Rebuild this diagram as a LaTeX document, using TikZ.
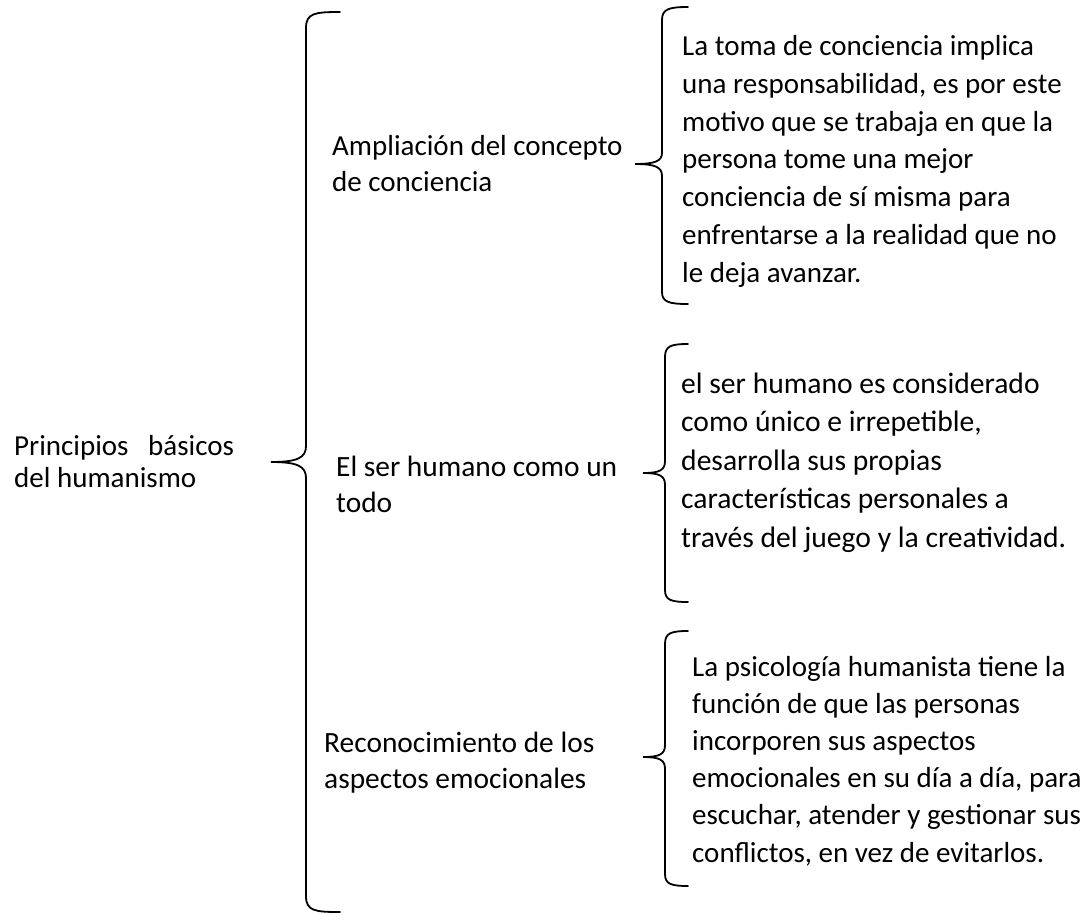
\documentclass[tikz,border=0pt]{standalone}
\usepackage{fontspec}
\setmainfont{Carlito}
\begin{document}
\begin{tikzpicture}[x=1pt,y=-1pt,
    brace/.style={line width=1.8pt,line cap=round},
    txt/.style={anchor=base west,inner sep=0pt,align=left,
      font=\fontsize{29}{37.7}\selectfont}]
  \useasboundingbox (0,0) rectangle (1091,919);
  % left title (anchor is the baseline of the last line)
  \node[txt,font=\fontsize{29}{32}\selectfont] (root) at (14,487)
    {Principios\ \ \ básicos\\del humanismo};
  % middle column
  \node[txt,font=\fontsize{29}{36}\selectfont] (a) at (332,191)
    {Ampliación del concepto\\de conciencia};
  \node[txt,font=\fontsize{29.4}{36}\selectfont] (b) at (336,512)
    {El ser humano como un\\todo};
  \node[txt,font=\fontsize{29.4}{36}\selectfont] (c) at (324,788)
    {Reconocimiento de los\\aspectos emocionales};
  % right column
  \node[txt] (ta) at (682,282) {La toma de conciencia implica\\una responsabilidad, es por este\\motivo que se trabaja en que la\\persona tome una mejor\\conciencia de sí misma para\\enfrentarse a la realidad que no\\le deja avanzar.};
  \node[txt,font=\fontsize{29.6}{38.5}\selectfont] (tb) at (681,547) {el ser humano es considerado\\como único e irrepetible,\\desarrolla sus propias\\características personales a\\través del juego y la creatividad.};
  \node[txt,font=\fontsize{29}{37.2}\selectfont] (tc) at (692,862) {La psicología humanista tiene la\\función de que las personas\\incorporen sus aspectos\\emocionales en su día a día, para\\escuchar, atender y gestionar sus\\conflictos, en vez de evitarlos.};
  % braces
  \draw[brace] (340,12) .. controls (315,12) and (306,13) .. (306,28)
    -- (306,446) .. controls (306,458) and (297,462) .. (271,462)
    .. controls (297,462) and (306,466) .. (306,478)
    -- (306,896) .. controls (306,911) and (315,912) .. (340,912);
  \draw[brace] (688,7) .. controls (669,7) and (662,9) .. (662,20)
    -- (662,153) .. controls (662,161) and (655,164) .. (635,164)
    .. controls (655,164) and (662,167) .. (662,176)
    -- (662,292) .. controls (662,302) and (669,304) .. (688,304);
  \draw[brace] (688,344) .. controls (671,344) and (665,346) .. (665,357)
    -- (665,461) .. controls (665,470) and (660,473) .. (643,473)
    .. controls (660,473) and (665,476) .. (665,485)
    -- (665,590) .. controls (665,600) and (671,602) .. (688,602);
  \draw[brace] (688,631) .. controls (671,631) and (665,633) .. (665,644)
    -- (665,745) .. controls (665,754) and (660,757) .. (643,757)
    .. controls (660,757) and (665,760) .. (665,769)
    -- (665,874) .. controls (665,884) and (671,886) .. (688,886);
\end{tikzpicture}
\end{document}
